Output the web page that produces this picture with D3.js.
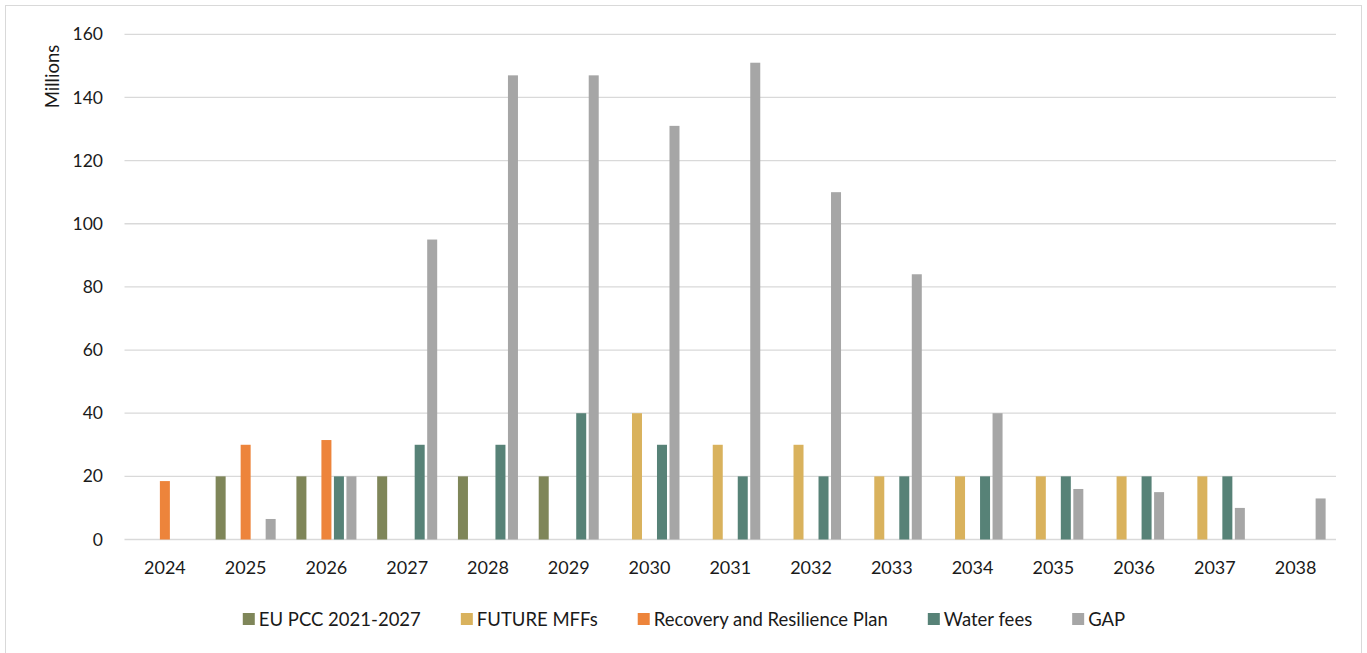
<!DOCTYPE html>
<html><head><meta charset="utf-8">
<script src="https://cdn.jsdelivr.net/npm/d3@7"></script>
<style>
html,body{margin:0;padding:0;background:#fff;}
svg text{font-family:"Lato","Liberation Sans",sans-serif;fill:#1a1a1a;}
</style></head>
<body><svg id="c" width="1367" height="653"></svg>
<script>
const years = ["2024","2025","2026","2027","2028","2029","2030","2031","2032","2033","2034","2035","2036","2037","2038"];
const seriesNames = ["EU PCC 2021-2027","FUTURE MFFs","Recovery and Resilience Plan","Water fees","GAP"];
const seriesColors = ["#7f8659","#d9b25d","#ed843b","#578277","#a6a6a6"];
const euPcc   = [0,20,20,20,20,20,0,0,0,0,0,0,0,0,0];
const futureMff = [0,0,0,0,0,0,40,30,30,20,20,20,20,20,0];
const rrp     = [18.5,30,31.5,0,0,0,0,0,0,0,0,0,0,0,0];
const water   = [0,0,20,30,30,40,30,20,20,20,20,20,20,20,0];
const gap     = [0,6.5,20,95,147,147,131,151,110,84,40,16,15,10,13];
const yTicks = [0,20,40,60,80,100,120,140,160];

const seriesValues = [euPcc, futureMff, rrp, water, gap];
const svg = d3.select("#c");
const FONT = "Lato, 'Liberation Sans', sans-serif";

// outer border
svg.append("rect").attr("x",5.5).attr("y",5.5).attr("width",1356).attr("height",660)
  .attr("fill","none").attr("stroke","#d9d9d9").attr("stroke-width",1);

const x0 = d3.scaleBand().domain(years).range([124.5,1336]).paddingInner(0).paddingOuter(0);
const x1 = d3.scaleBand().domain(seriesNames).range([0,x0.bandwidth()]).paddingInner(0.2).paddingOuter(0.83);
const y = d3.scaleLinear().domain([0,160]).range([539.5,34.3]);

// gridlines
svg.append("g").selectAll("line").data(yTicks).join("line")
  .attr("x1",124.5).attr("x2",1336)
  .attr("y1",d=>y(d)).attr("y2",d=>y(d))
  .attr("stroke","#d9d9d9").attr("stroke-width",1.3);

// y tick labels
const yAxis = d3.axisLeft(y).tickValues(yTicks).tickSize(0).tickPadding(0);
const gy = svg.append("g").attr("transform","translate(103,0)").call(yAxis);
gy.select(".domain").remove();
gy.selectAll("text").attr("font-size",17.5).attr("font-family",FONT).attr("fill","#1a1a1a");

// y title
svg.append("text").attr("transform","translate(59,76.5) rotate(-90)")
  .attr("text-anchor","middle").attr("font-size",18.5).text("Millions");

// bars
const data = [];
years.forEach((yr,i)=>seriesNames.forEach((s,j)=>{
  data.push({year:yr, series:s, value:seriesValues[j][i], color:seriesColors[j]});
}));
svg.append("g").selectAll("rect").data(data.filter(d=>d.value>0)).join("rect")
  .attr("x",d=>x0(d.year)+x1(d.series))
  .attr("width",x1.bandwidth())
  .attr("y",d=>y(d.value))
  .attr("height",d=>y(0)-y(d.value))
  .attr("fill",d=>d.color);

// x axis labels
const xAxis = d3.axisBottom(x0).tickSize(0).tickPadding(0);
const gx = svg.append("g").attr("transform","translate(0,561.5)").call(xAxis);
gx.select(".domain").remove();
gx.selectAll("text").attr("font-size",18).attr("font-family",FONT).attr("fill","#1a1a1a");

// legend
const lg = svg.append("g");
const items = lg.selectAll("g").data(seriesNames).join("g");
items.append("rect").attr("width",12).attr("height",12).attr("y",-6).attr("fill",(d,i)=>seriesColors[i]);
items.append("text").attr("x",16).attr("dy","0.36em").attr("font-size",18.5).text(d=>d);
let xpos = 0; const gapW = 40;
items.each(function(){
  const w = this.querySelector("text").getComputedTextLength();
  d3.select(this).attr("transform",`translate(${xpos},0)`);
  xpos += 16 + w + gapW;
});
const total = xpos - gapW;
lg.attr("transform",`translate(${684 - total/2},619)`);
</script></body></html>
